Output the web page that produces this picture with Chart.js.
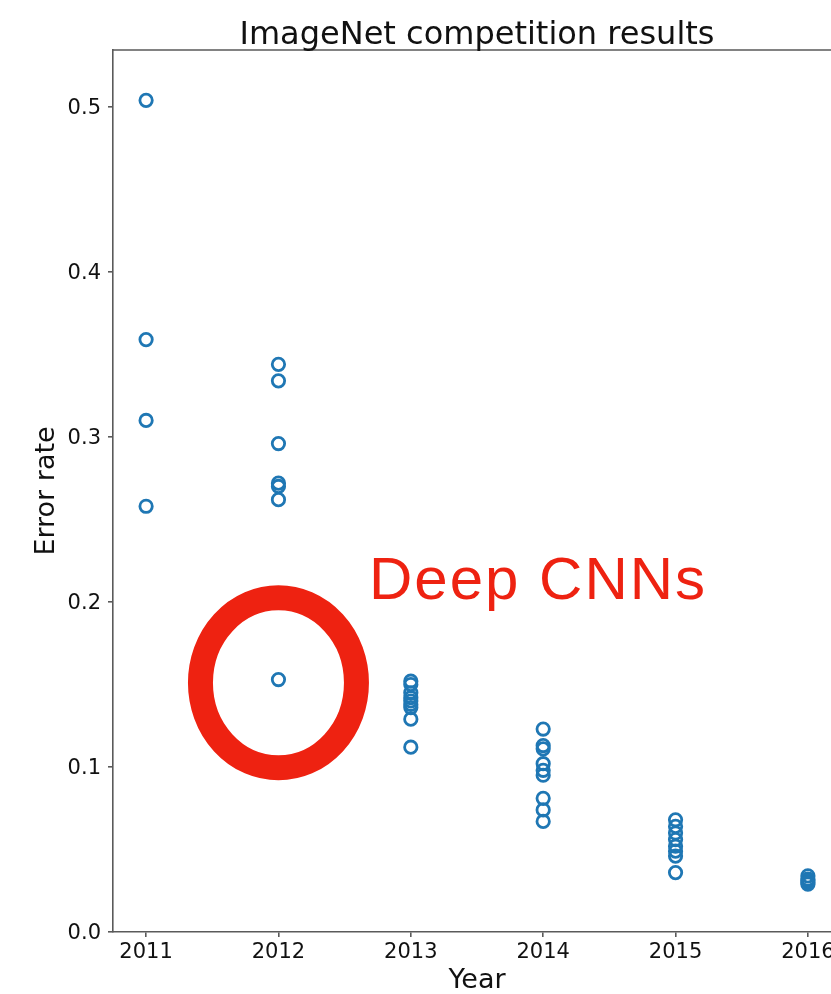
<!DOCTYPE html>
<html>
<head>
<meta charset="utf-8">
<title>ImageNet competition results</title>
<script src="https://cdn.jsdelivr.net/npm/chart.js@4"></script>
<style>
  html, body { margin: 0; padding: 0; background: #fff; overflow: hidden; }
  #wrap { width: 880px; height: 994px; }
</style>
</head>
<body>
<div id="wrap"><canvas id="chart" width="880" height="994"></canvas></div>
<script>
// error rates, one list per year
const years = [2011, 2012, 2013, 2014, 2015, 2016];
const err2011 = [0.504, 0.359, 0.310, 0.258];
const err2012 = [0.344, 0.334, 0.296, 0.272, 0.270, 0.262, 0.153];
const err2013 = [0.152, 0.150, 0.145, 0.142, 0.140, 0.138, 0.136, 0.129, 0.112];
const err2014 = [0.123, 0.113, 0.111, 0.102, 0.098, 0.095, 0.081, 0.074, 0.067];
const err2015 = [0.068, 0.064, 0.060, 0.056, 0.052, 0.049, 0.046, 0.036];
const err2016 = [0.034, 0.032, 0.031, 0.030, 0.029];
const yTicks = [0.0, 0.1, 0.2, 0.3, 0.4, 0.5];

const allErr = [err2011, err2012, err2013, err2014, err2015, err2016];
const points = [];
allErr.forEach((list, i) => {
    list.forEach(v => points.push({ x: years[i], y: v }));
});

const axisColor = "#5a5a5a";
const textColor = "#111";
const red = "#ee2211";

// top/right spines, title and the "Deep CNNs" note
const extras = {
    id: "extras",
    afterDraw(chart) {
        const ctx = chart.ctx;
        const a = chart.chartArea;
        const xs = chart.scales.x, ys = chart.scales.y;
        ctx.save();

        ctx.strokeStyle = axisColor;
        ctx.lineWidth = 1.6;
        ctx.beginPath();
        ctx.moveTo(a.left, a.top);
        ctx.lineTo(a.right, a.top);
        ctx.lineTo(a.right, a.bottom);
        ctx.stroke();

        ctx.fillStyle = textColor;
        ctx.font = "32px 'DejaVu Sans'";
        ctx.textAlign = "center";
        ctx.textBaseline = "alphabetic";
        ctx.fillText("ImageNet competition results", (a.left + a.right) / 2, 44);

        // circle round the 2012 AlexNet entry
        ctx.strokeStyle = red;
        ctx.lineWidth = 25;
        ctx.beginPath();
        ctx.ellipse(xs.getPixelForValue(2012), ys.getPixelForValue(0.151), 78, 85, 0, 0, Math.PI * 2);
        ctx.stroke();

        ctx.fillStyle = red;
        ctx.font = "60px 'Liberation Sans', Arial, sans-serif";
        ctx.letterSpacing = "2px";
        ctx.textAlign = "left";
        ctx.fillText("Deep CNNs", 369, 599);
        ctx.restore();
    }
};

new Chart(document.getElementById("chart"), {
    type: "scatter",
    data: {
        datasets: [{
            data: points,
            pointStyle: "circle",
            pointRadius: 6.2,
            pointHoverRadius: 6.2,
            pointBorderWidth: 2.8,
            pointBorderColor: "#1f77b4",
            pointBackgroundColor: "rgba(0,0,0,0)"
        }]
    },
    options: {
        responsive: false,
        animation: false,
        events: [],
        layout: { padding: { left: 0, top: 50, right: 39, bottom: 0 } },
        plugins: {
            legend: { display: false },
            tooltip: { enabled: false },
            title: { display: false }
        },
        scales: {
            x: {
                type: "linear",
                min: 2010.75,
                max: 2016.25,
                afterBuildTicks: s => { s.ticks = years.map(v => ({ value: v })); },
                afterFit: s => { s.height = 62; },
                border: { display: true, color: axisColor, width: 1.6 },
                grid: { drawOnChartArea: false, drawTicks: true, tickLength: 5, color: axisColor, lineWidth: 1.6 },
                ticks: {
                    color: textColor,
                    padding: 3,
                    font: { family: "'DejaVu Sans'", size: 21 },
                    callback: v => String(v)
                },
                title: {
                    display: true,
                    text: "Year",
                    color: textColor,
                    font: { family: "'DejaVu Sans'", size: 27, lineHeight: 1 },
                    padding: 0
                }
            },
            y: {
                min: 0,
                max: 0.5345,
                afterBuildTicks: s => { s.ticks = yTicks.map(v => ({ value: v })); },
                afterFit: s => { s.width = 113; },
                border: { display: true, color: axisColor, width: 1.6 },
                grid: { drawOnChartArea: false, drawTicks: true, tickLength: 5, color: axisColor, lineWidth: 1.6 },
                ticks: {
                    color: textColor,
                    padding: 7,
                    labelOffset: 2,
                    font: { family: "'DejaVu Sans'", size: 21 },
                    callback: v => v.toFixed(1)
                },
                title: {
                    display: true,
                    text: "Error rate",
                    color: textColor,
                    font: { family: "'DejaVu Sans'", size: 27, lineHeight: 1 },
                    padding: { top: 33, bottom: 0 }
                }
            }
        }
    },
    plugins: [extras]
});
</script>
</body>
</html>
